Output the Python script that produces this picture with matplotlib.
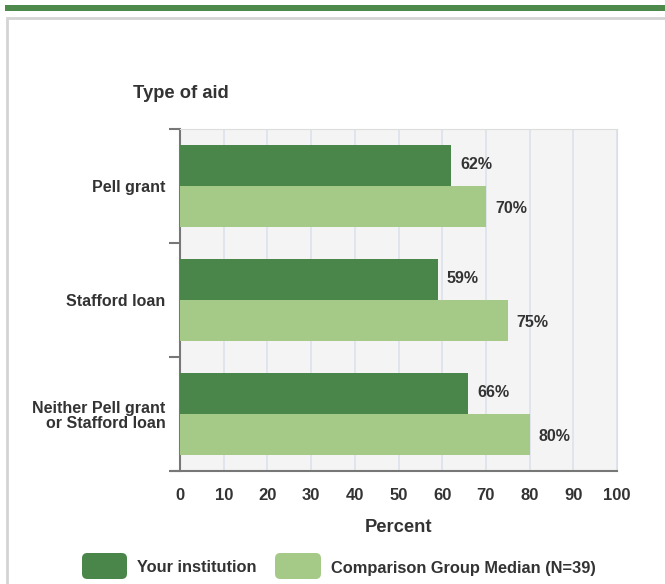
import matplotlib
matplotlib.use("Agg")
import matplotlib.pyplot as plt
from matplotlib.patches import FancyBboxPatch, Rectangle
import numpy as np

categories = ["Pell grant", "Stafford loan", "Neither Pell grant\nor Stafford loan"]
your_inst = [62, 59, 66]
comparison = [70, 75, 80]
series_names = ["Your institution", "Comparison Group Median (N=39)"]
xticks = [0, 10, 20, 30, 40, 50, 60, 70, 80, 90, 100]

DARK = "#4a8649"
LIGHT = "#a5c986"
TXT = "#333333"

plt.rcParams['font.family'] = ['Liberation Sans', 'DejaVu Sans']

W, H = 665, 584
fig = plt.figure(figsize=(W / 100, H / 100), dpi=100)

def fx(px):
    return px / W

def fy(py):
    return 1 - py / H

# top green band
fig.patches.append(Rectangle((fx(5), fy(11)), fx(660), 6 / H, transform=fig.transFigure,
                             facecolor="#4e8a4c", edgecolor="none"))
# panel border
fig.patches.append(Rectangle((fx(6.5), fy(600)), fx(700), (600 - 18) / H, transform=fig.transFigure,
                             facecolor="none", edgecolor="#d4d4d4", linewidth=2))

ax = fig.add_axes([fx(180), fy(471), fx(617 - 180), (471 - 129) / H])
ax.set_facecolor("#f4f4f4")

n = len(categories)
y = np.arange(n)
bh = 0.364
ax.barh(y - bh / 2, your_inst, height=bh, color=DARK, zorder=3)
ax.barh(y + bh / 2, comparison, height=bh, color=LIGHT, zorder=3)

for i in range(n):
    ax.annotate(f"{your_inst[i]}%", (your_inst[i], y[i] - bh / 2), xytext=(6.5, 0.4),
                textcoords="offset points", va="center", ha="left",
                fontsize=11.5, fontweight="bold", color=TXT)
    ax.annotate(f"{comparison[i]}%", (comparison[i], y[i] + bh / 2), xytext=(6.5, -1.4),
                textcoords="offset points", va="center", ha="left",
                fontsize=11.5, fontweight="bold", color=TXT)

ax.set_xlim(0, 100)
ax.set_ylim(n - 0.5, -0.5)
ax.set_xticks(xticks)
ax.set_xticklabels([str(t) for t in xticks], fontsize=12, fontweight="bold", color=TXT)
ax.tick_params(axis="x", length=0, pad=12)
ax.xaxis.grid(True, color="#dce3ec", linewidth=1.2, zorder=0)
ax.set_axisbelow(True)

ax.set_yticks(np.arange(n + 1) - 0.5)
ax.set_yticklabels([])
ax.tick_params(axis="y", which="major", length=8, width=1.5, color="#777777")
ax.set_yticks(y, minor=True)
ax.set_yticklabels(categories, minor=True, fontsize=11.5, fontweight="bold", color=TXT,
                   linespacing=1.0)
ax.tick_params(axis="y", which="minor", length=0, pad=10.5)

ax.spines["left"].set_color("#777777")
ax.spines["left"].set_linewidth(1.5)
ax.spines["bottom"].set_color("#777777")
ax.spines["bottom"].set_linewidth(1.5)
ax.spines["bottom"].set_bounds(-2, 100)
ax.spines["top"].set_color("#dddddd")
ax.spines["right"].set_color("#dddddd")

ax.set_xlabel("Percent", fontsize=13.2, fontweight="bold", color=TXT, labelpad=12)

fig.text(fx(133), fy(93), "Type of aid", fontsize=13.2, fontweight="bold", color=TXT,
         ha="left", va="center")

# legend
for (x0, x1, tx, col, name) in [(82, 127, 137, DARK, series_names[0]),
                                 (275, 321, 331, LIGHT, series_names[1])]:
    fig.patches.append(FancyBboxPatch((fx(x0), fy(579)), fx(x1 - x0), 26 / H,
                                      boxstyle="round,pad=0,rounding_size=0.008",
                                      transform=fig.transFigure, facecolor=col,
                                      edgecolor="none", mutation_aspect=W / H))
    fig.text(fx(tx), fy(568), name, fontsize=11.8, fontweight="bold", color=TXT,
             ha="left", va="center")

fig.savefig("out.png", dpi=100)
